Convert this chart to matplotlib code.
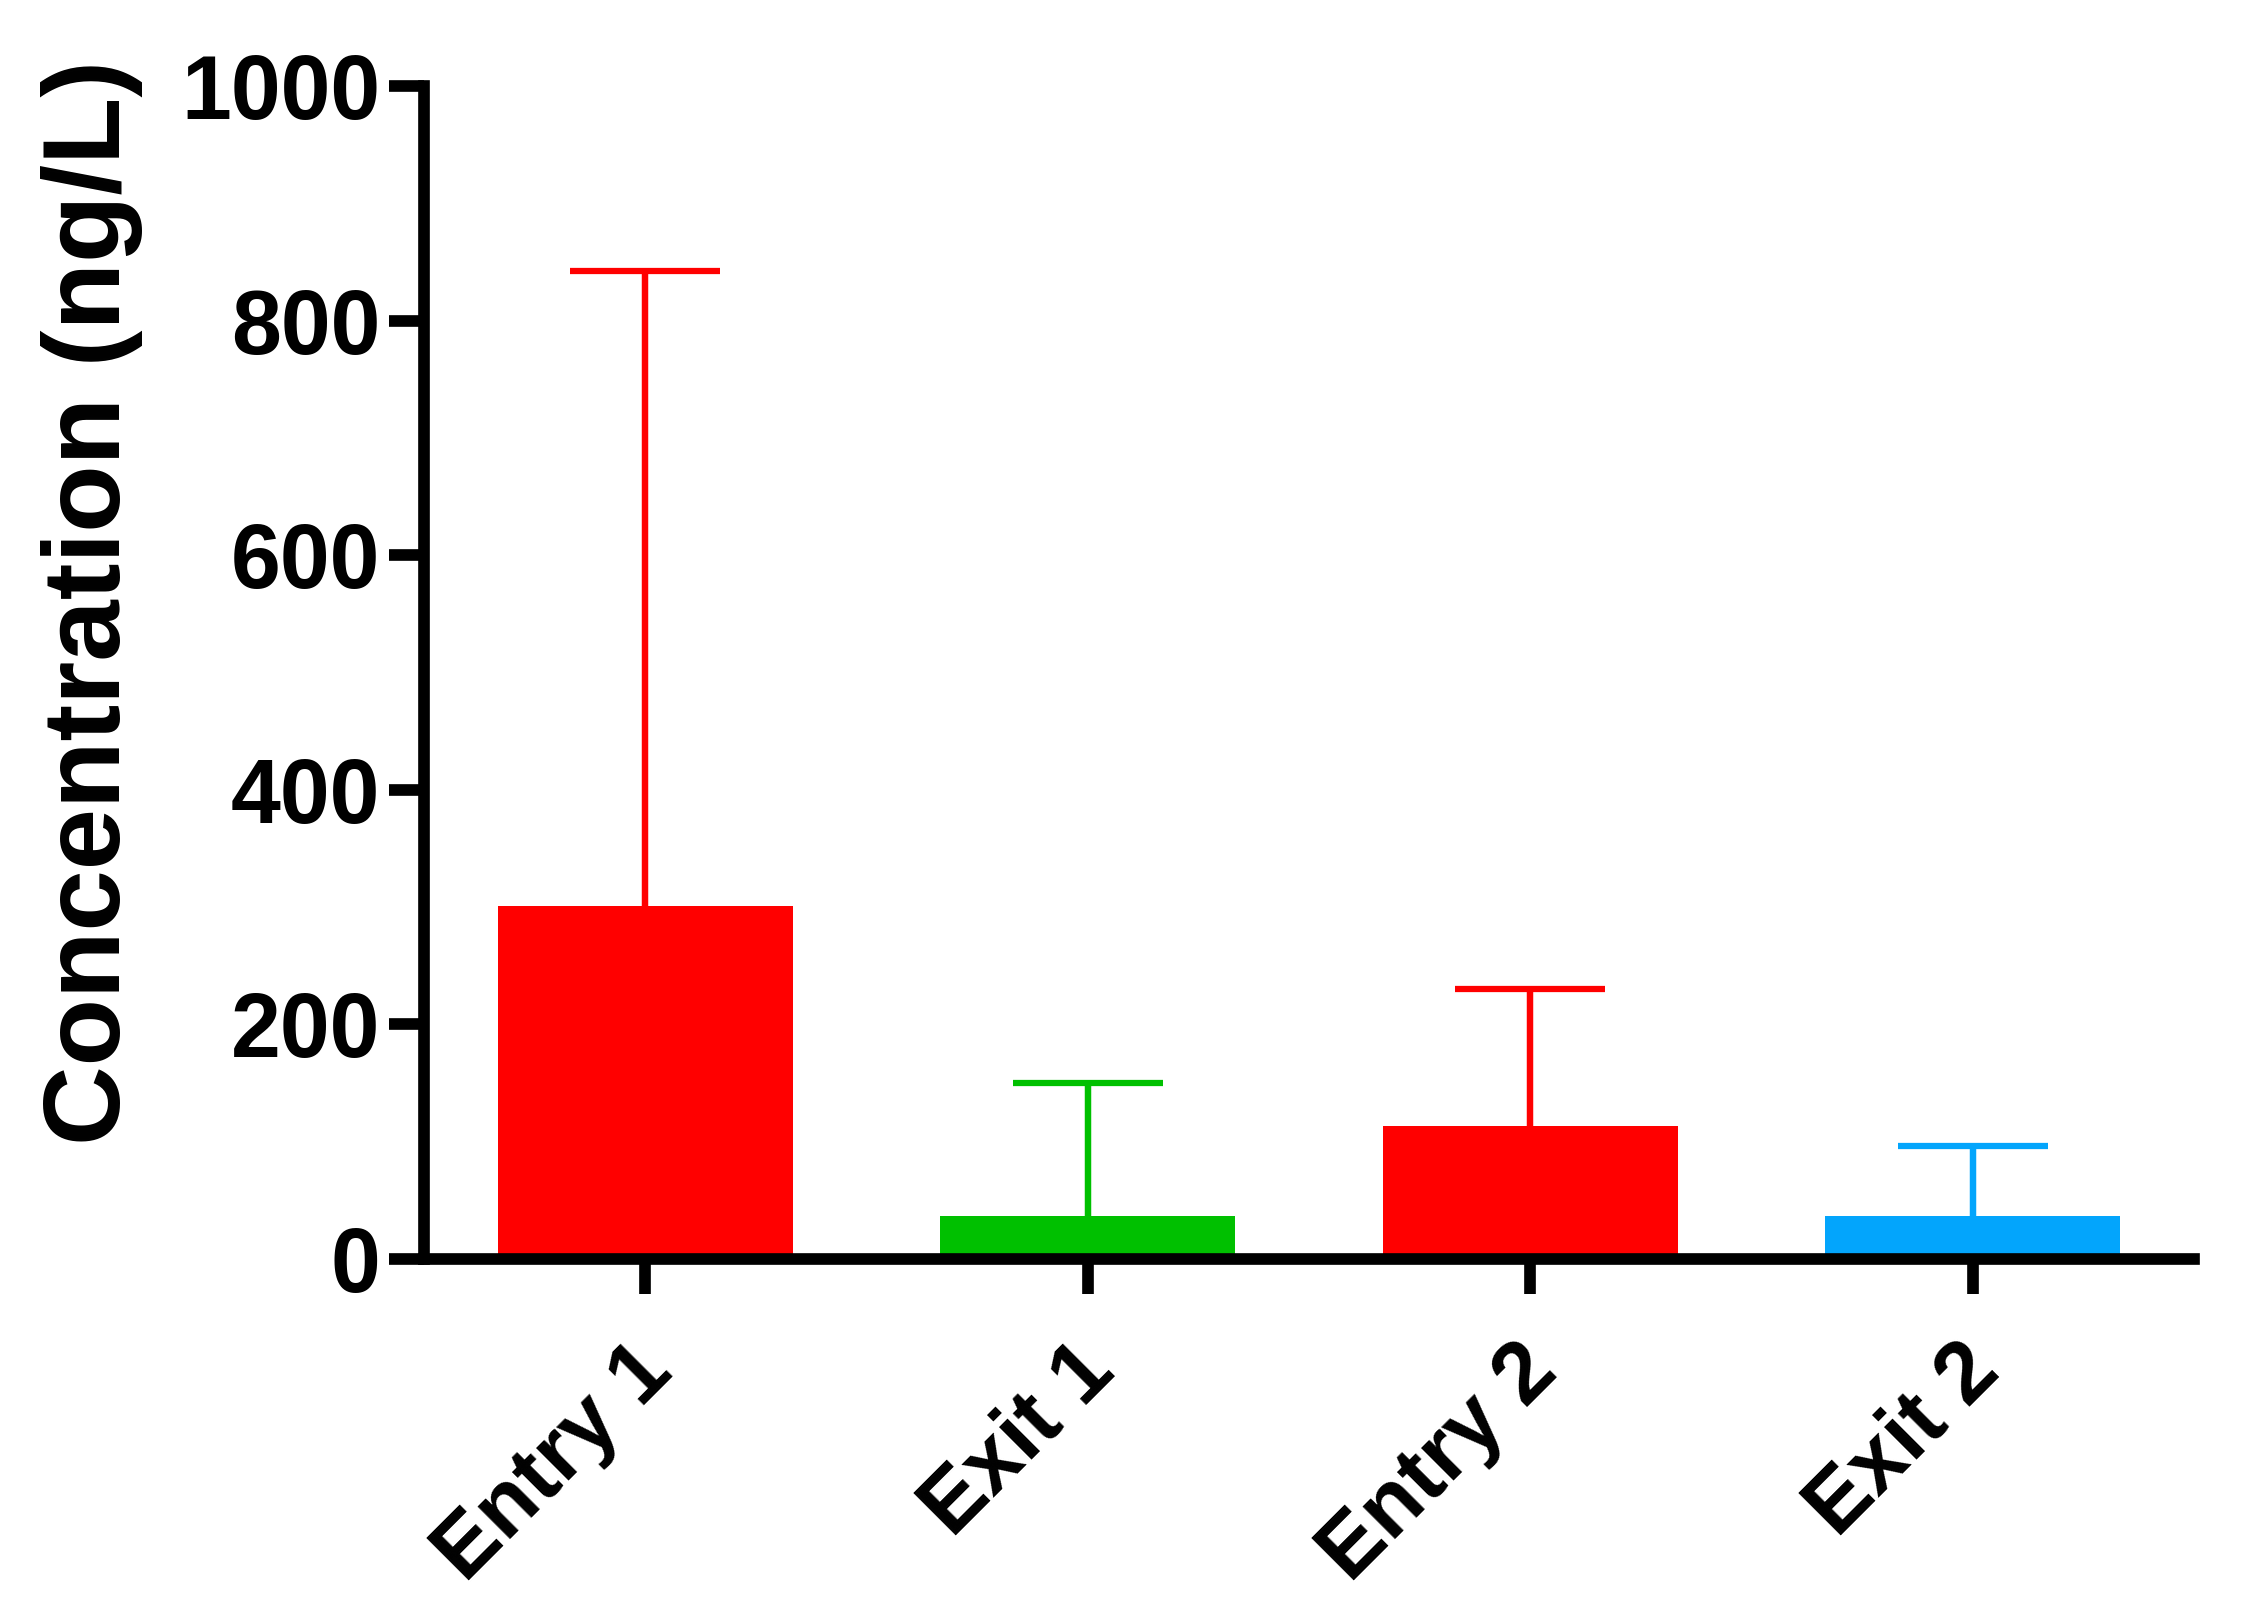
import matplotlib
matplotlib.use("Agg")
import matplotlib.pyplot as plt
from matplotlib.transforms import ScaledTranslation

categories = ["Entry 1", "Exit 1", "Entry 2", "Exit 2"]
means = [301, 37, 113, 37]
upper_err = [541, 113, 117, 59]
colors = ["#FF0000", "#00C000", "#FF0000", "#03A5FC"]
yticks = [0, 200, 400, 600, 800, 1000]

plt.rcParams['font.family'] = ['Liberation Sans', 'DejaVu Sans']
plt.rcParams['font.weight'] = 'bold'

fig = plt.figure(figsize=(2241/300, 1622/300), dpi=300)
ax = fig.add_axes([424/2241, 1 - 1259/1622, (2194-424)/2241, (1259-86)/1622])

x = list(range(len(categories)))
for i in x:
    ax.bar(i, means[i], width=0.667, color=colors[i], edgecolor='none', zorder=2)
    _, caps, _ = ax.errorbar(i, means[i], yerr=[[0], [upper_err[i]]], fmt='none',
                             ecolor=colors[i], elinewidth=1.55, capsize=18,
                             capthick=1.5, zorder=1)
    if len(caps) == 2:
        caps[0].set_visible(False)

ax.set_xlim(-0.5, 3.5)
ax.set_ylim(0, 1000)
ax.set_yticks(yticks)
ax.set_yticklabels([str(v) for v in yticks], fontsize=21.5, fontweight='bold')
ax.set_xticks(x)
ax.set_xticklabels([])

lbl_tr = ax.get_xaxis_transform() + ScaledTranslation(-3.5/72, -17/72, fig.dpi_scale_trans)
for i, name in zip(x, categories):
    ax.text(i, 0, name, transform=lbl_tr, fontsize=21, fontweight='bold',
            rotation=45, ha='right', va='top', rotation_mode='anchor', clip_on=False)

ax.set_ylabel("Concentration (ng/L)", fontsize=26.5, fontweight='bold')
ax.yaxis.set_label_coords(-0.159, 0.56)

for s in ['top', 'right']:
    ax.spines[s].set_visible(False)
for s in ['left', 'bottom']:
    ax.spines[s].set_linewidth(2.8)
    ax.spines[s].set_capstyle('projecting')
ax.tick_params(axis='both', width=2.8, length=8.5, color='black')
ax.tick_params(axis='y', pad=2)

fig.savefig("out.png", dpi=300)
